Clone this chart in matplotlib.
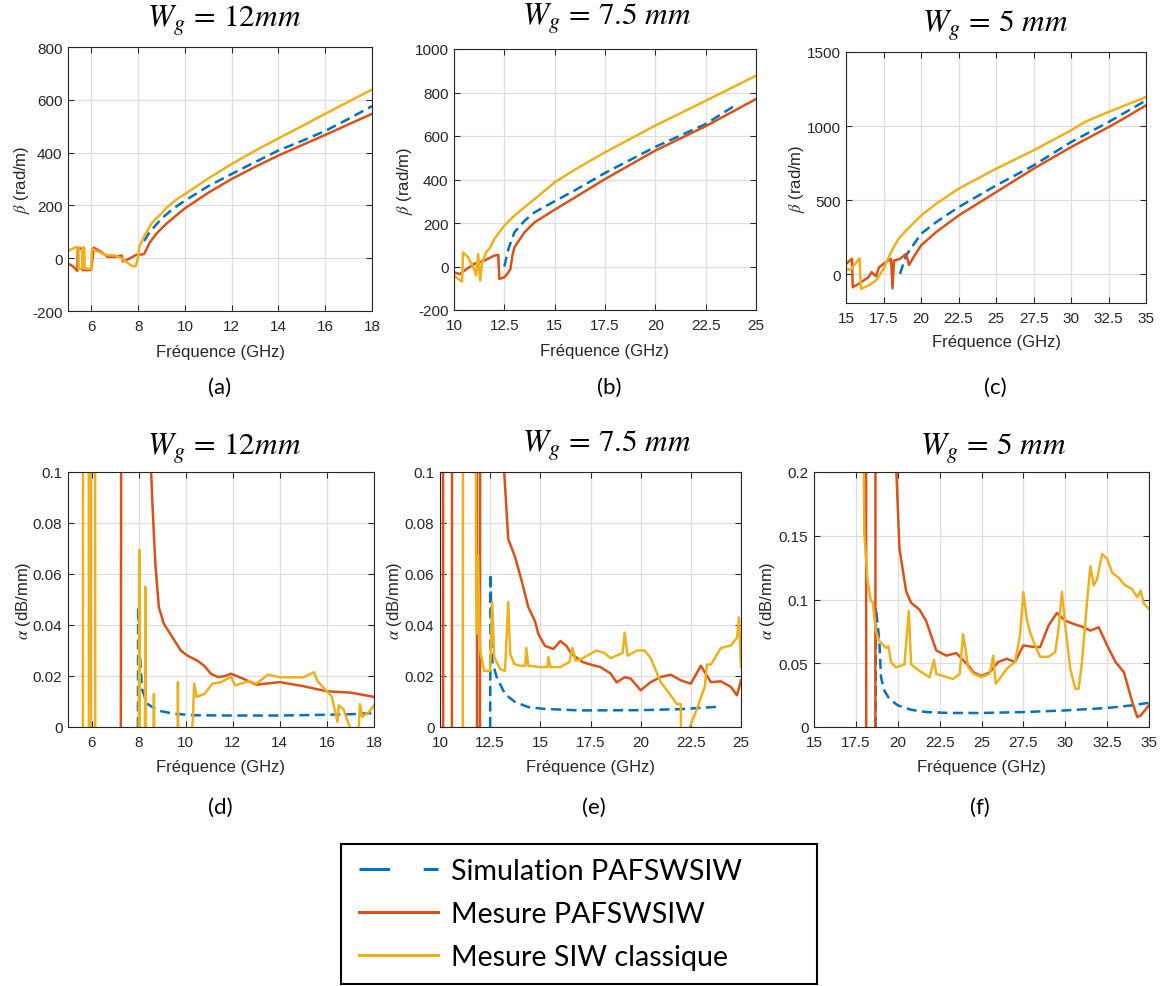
import matplotlib
matplotlib.use("Agg")
import matplotlib.pyplot as plt
from matplotlib.lines import Line2D
from matplotlib.patches import Rectangle
from matplotlib.font_manager import FontProperties

# === DATA ===
# (a) beta, Wg = 12 mm
a_sim_f = [8.25, 8.5, 9.0, 9.5, 10, 11, 12, 13, 14, 15, 16, 17, 18]
a_sim_v = [65, 100, 150, 188, 218, 273, 319, 364, 408, 444, 482, 528, 576]
a_pafs_f = [5.0, 5.2, 5.4, 5.42, 5.6, 5.62, 5.95, 6.0, 6.1, 6.4, 6.7, 7.0, 7.3, 7.35, 7.6, 7.9,
            8.25, 8.5, 8.8, 9.2, 9.6, 10, 11, 12, 13, 14, 15, 16, 17, 18]
a_pafs_v = [-20, -30, -48, 40, 35, -45, -45, -40, 40, 25, 5, 5, 10, -12, -3, 12,
            15, 60, 95, 130, 160, 189, 248, 300, 346, 389, 428, 467, 507, 547]
a_siw_f = [5.0, 5.35, 5.45, 5.46, 5.6, 5.61, 5.7, 5.71, 6.0, 6.02, 6.3, 6.6, 7.0, 7.3, 7.5, 7.75,
           7.9, 8.0, 8.05, 8.3, 8.6, 9.0, 9.2, 9.6, 10.0, 11.0, 12.0, 13.0, 14.0, 15.0, 16.0, 17.0, 18.0]
a_siw_v = [28, 42, 40, -40, -40, 40, 40, -40, -40, 35, 25, 12, 10, 0, -15, -30,
           -30, 5, 45, 90, 135, 170, 190, 220, 243, 302, 357, 407, 454, 500, 547, 593, 639]

# (b) beta, Wg = 7.5 mm
b_sim_f = [12.5, 12.7, 13.0, 13.5, 14, 15, 16, 17.5, 20, 22.5, 24]
b_sim_v = [0, 80, 157, 210, 249, 300, 350, 430, 550, 655, 743]
b_pafs_f = [10, 10.3, 10.5, 11, 11.5, 12, 12.2, 12.25, 12.5, 12.7, 12.8, 12.9, 13.0, 13.5, 14,
            15, 16, 17.5, 20, 22.5, 25]
b_pafs_v = [-27, -35, -20, 12, 27, 50, 53, -57, -50, -27, -12, 50, 88, 157, 203,
            261, 317, 402, 533, 645, 770]
b_siw_f = [10, 10.4, 10.45, 10.7, 11, 11.1, 11.2, 11.3, 11.4, 11.6, 11.8, 12, 12.5, 13, 13.5,
           14, 15, 16, 17.5, 20, 22, 22.5, 25]
b_siw_v = [-42, -70, 65, 42, -12, -42, 57, -65, 19, 65, 88, 126, 188, 234, 272,
           310, 387, 445, 525, 648, 739, 762, 877]

# (c) beta, Wg = 5 mm
c_sim_f = [18.6, 19, 20, 21, 22.5, 25, 27.5, 30, 32.5, 35]
c_sim_v = [2, 126, 273, 351, 453, 599, 734, 892, 1027, 1173]
c_pafs_f = [15, 15.4, 15.45, 16, 16.5, 16.7, 17, 17.2, 17.5, 18, 18.1, 18.2, 18.6, 19, 19.2,
            19.5, 20, 21, 22.5, 25, 27.5, 30, 32.5, 33.5, 35]
c_pafs_v = [70, 104, -88, -54, -20, 14, -14, 47, 70, 104, -95, 92, 104, 137, 63,
            115, 194, 284, 396, 554, 712, 858, 993, 1050, 1140]
c_siw_f = [15, 15.3, 15.9, 16.0, 16.5, 17, 17.5, 18, 18.5, 19, 20, 21, 22.5, 25, 27.5, 30,
           31, 32.5, 35]
c_siw_v = [36, 30, 108, -99, -76, -42, 36, 149, 239, 295, 396, 475, 577, 712, 836, 971,
           1032, 1095, 1196]

# (d) alpha, Wg = 12 mm
d_sim_f = [7.97, 7.98, 8.05, 8.14, 8.36, 8.79, 9.5, 10.36, 12, 14, 16, 17, 18]
d_sim_v = [0, 0.047, 0.03, 0.015, 0.0092, 0.0065, 0.0052, 0.0046, 0.0045, 0.0045, 0.0048, 0.005, 0.0055]
d_pafs_f = [5.0, 7.24, 7.28, 8.5, 8.53, 8.6, 8.71, 8.86, 9.07, 9.43, 9.79, 10.07, 10.5, 10.79,
            11.07, 11.36, 11.64, 11.93, 12.5, 13, 14, 15, 16, 17, 18]
d_pafs_v = [-0.05, -0.05, 0.3, 0.3, 0.1, 0.085, 0.064, 0.047, 0.0405, 0.0353, 0.030, 0.028, 0.026, 0.024,
            0.0209, 0.0196, 0.0199, 0.0209, 0.0187, 0.0166, 0.0176, 0.016, 0.014, 0.0135, 0.0118]
d_siw_f = [5.0, 5.63, 5.65, 5.87, 5.89, 5.96, 5.98, 6.14, 6.16, 8.0, 8.03, 8.06, 8.26, 8.29, 8.32,
           8.62, 8.65, 8.68, 9.65, 9.67, 9.7, 10.2, 10.3, 10.36, 10.47, 10.8, 11.14, 11.5, 11.93,
           12.1, 12.7, 13.0, 13.5, 14, 15, 15.45, 15.6, 16.2, 16.45, 16.5, 16.7, 17.05, 17.35,
           17.4, 17.5, 17.8, 18]
d_siw_v = [-0.05, -0.05, 0.3, 0.3, -0.05, -0.05, 0.3, 0.3, -0.05, -0.02, 0.0695, -0.02, -0.02, 0.055, -0.02,
           -0.02, 0.013, -0.02, -0.02, 0.0176, -0.02, -0.005, 0.002, 0.017, 0.0118, 0.013, 0.017, 0.0176, 0.0196,
           0.0163, 0.018, 0.017, 0.0205, 0.0195, 0.0195, 0.0215, 0.018, 0.012, 0.002, 0.0085, 0.007, -0.002, -0.002,
           0.009, 0.004, 0.006, 0.0085]

# (e) alpha, Wg = 7.5 mm
e_sim_f = [12.5, 12.52, 12.56, 12.6, 12.82, 13.24, 13.74, 14.4, 15.2, 17, 20, 22, 23, 24]
e_sim_v = [0, 0.060, 0.040, 0.026, 0.0196, 0.0129, 0.0098, 0.0078, 0.0071, 0.0065, 0.0066, 0.0070, 0.0075, 0.0080]
e_pafs_f = [10.0, 10.14, 10.16, 10.59, 10.61, 11.83, 11.85, 11.99, 12.01, 13.15, 13.2, 13.4, 13.74,
            14.07, 14.4, 14.73, 14.9, 15.23, 15.65, 16.0, 16.3, 16.56, 17.1, 17.5, 18, 18.5, 18.8,
            19.2, 19.5, 20, 20.5, 21, 21.5, 22, 22.5, 23, 23.5, 24, 24.5, 24.8, 25]
e_pafs_v = [0.3, 0.3, -0.05, -0.05, 0.3, 0.3, -0.05, -0.05, 0.3, 0.3, 0.1, 0.0737, 0.0667,
            0.0573, 0.047, 0.0416, 0.0365, 0.0318, 0.0306, 0.0337, 0.0318, 0.0286, 0.0255, 0.0245, 0.0235, 0.021, 0.0175,
            0.0195, 0.019, 0.0144, 0.0176, 0.0196, 0.0205, 0.0183, 0.017, 0.024, 0.0176, 0.0179, 0.0157, 0.0124, 0.0183]
e_siw_f = [10.0, 11.13, 11.16, 11.74, 11.8, 11.84, 11.9, 12.0, 12.2, 12.5, 12.6, 12.7, 13.0, 13.24,
           13.4, 13.5, 13.7, 14.0, 14.25, 14.3, 14.4, 15.0, 15.35, 15.4, 15.5, 16.0, 16.45, 16.6,
           16.75, 17.0, 17.8, 18.2, 18.5, 18.8, 19.1, 19.2, 19.35, 19.6, 19.8, 20.2, 20.5, 21, 21.5,
           21.8, 22.0, 22.02, 22.45, 22.8, 23.2, 23.3, 23.5, 24, 24.5, 24.8, 24.9, 25]
e_siw_v = [-0.05, -0.05, 0.3, 0.3, 0.051, 0.0365, 0.067, 0.030, 0.022, 0.022, 0.049, 0.0275, 0.0227, 0.022,
           0.049, 0.0286, 0.0247, 0.024, 0.024, 0.031, 0.024, 0.0235, 0.0235, 0.0275, 0.0235, 0.0235, 0.0255, 0.031,
           0.026, 0.0265, 0.030, 0.029, 0.027, 0.028, 0.029, 0.037, 0.028, 0.029, 0.030, 0.030, 0.027, 0.0176, 0.0124,
           0.009, 0.009, -0.01, 0.0, 0.007, 0.016, 0.0245, 0.0245, 0.031, 0.032, 0.035, 0.043, 0.0235]

# (f) alpha, Wg = 5 mm
f_sim_f = [18.68, 18.7, 18.9, 19.0, 19.2, 19.5, 20.0, 20.8, 21.7, 23.1, 25, 27.5, 30, 32.5, 34, 35]
f_sim_v = [0, 0.0935, 0.0675, 0.039, 0.0286, 0.022, 0.017, 0.0135, 0.0117, 0.011, 0.011, 0.0117, 0.013,
           0.0149, 0.017, 0.019]
f_pafs_f = [15, 18.1, 18.12, 18.66, 18.68, 19.88, 19.92, 20.1, 20.5, 20.8, 21.3, 21.7, 22.3, 22.9, 23.5,
            24.3, 24.5, 25, 25.5, 26, 26.5, 27, 27.5, 28, 28.5, 29, 29.5, 30, 30.5, 31, 31.5, 32, 32.5,
            33, 33.5, 34, 34.3, 34.5, 35]
f_pafs_v = [0.5, 0.5, -0.05, -0.05, 0.5, 0.5, 0.2, 0.140, 0.1065, 0.0974, 0.092, 0.083, 0.060, 0.056, 0.058,
            0.047, 0.043, 0.040, 0.043, 0.051, 0.0535, 0.051, 0.064, 0.063, 0.0626, 0.0795, 0.0894, 0.0834, 0.0808,
            0.0787, 0.0756, 0.0782, 0.064, 0.051, 0.043, 0.0196, 0.0078, 0.009, 0.017]
f_siw_f = [15, 17.85, 18.0, 18.2, 18.4, 18.5, 18.7, 18.9, 19.3, 19.44, 19.6, 19.9, 20.4, 20.66, 20.8,
           21.3, 21.9, 22.16, 22.3, 23.3, 23.7, 23.9, 24.06, 24.2, 24.5, 25, 25.5, 25.7, 25.85, 26.2,
           26.5, 27, 27.3, 27.5, 27.7, 27.9, 28.2, 28.5, 29, 29.4, 29.6, 29.8, 30, 30.3, 30.6, 30.8,
           31, 31.3, 31.5, 31.7, 31.9, 32.2, 32.5, 32.8, 33.2, 33.5, 34, 34.3, 34.5, 34.7, 35]
f_siw_v = [0.5, 0.5, 0.153, 0.114, 0.099, 0.098, 0.075, 0.0675, 0.062, 0.0636, 0.0506, 0.0468, 0.049, 0.091,
           0.049, 0.044, 0.039, 0.0525, 0.0416, 0.0377, 0.0416, 0.0727, 0.06, 0.047, 0.042, 0.039, 0.042, 0.056,
           0.034, 0.040, 0.0456, 0.051, 0.0717, 0.106, 0.085, 0.074, 0.064, 0.055, 0.055, 0.0587, 0.077, 0.106,
           0.0795, 0.0456, 0.030, 0.030, 0.051, 0.098, 0.126, 0.111, 0.116, 0.1356, 0.132, 0.121, 0.117, 0.112,
           0.108, 0.1017, 0.107, 0.0965, 0.0926]

# tick labels
ticks_a = [6, 8, 10, 12, 14, 16, 18]
ticks_b = [10, 12.5, 15, 17.5, 20, 22.5, 25]
ticks_c = [15, 17.5, 20, 22.5, 25, 27.5, 30, 32.5, 35]
labels_b = ["10", "12.5", "15", "17.5", "20", "22.5", "25"]
labels_c = ["15", "17.5", "20", "22.5", "25", "27.5", "30", "32.5", "35"]
yt_a = [-200, 0, 200, 400, 600, 800]
yt_b = [-200, 0, 200, 400, 600, 800, 1000]
yt_c = [0, 500, 1000, 1500]
yt_alpha = [0, 0.02, 0.04, 0.06, 0.08, 0.1]
yl_alpha = ["0", "0.02", "0.04", "0.06", "0.08", "0.1"]
yt_f = [0, 0.05, 0.1, 0.15, 0.2]
yl_f = ["0", "0.05", "0.1", "0.15", "0.2"]

titles = [r"$W_g\,=\,12mm$", r"$W_g\,=\,7.5\ mm$", r"$W_g\,=\,5\ mm$"]
legend_labels = ["Simulation PAFSWSIW", "Mesure PAFSWSIW", "Mesure SIW classique"]

# === STYLE ===
BLUE, RED, YELLOW = "#0072BD", "#D95319", "#EDB120"
DARK = "#262626"
W, H = 1164, 987
plt.rcParams["font.family"] = ["Liberation Sans", "DejaVu Sans"]
plt.rcParams["mathtext.fontset"] = "stix"

fig = plt.figure(figsize=(W / 100, H / 100), dpi=100)


def px_axes(l, r, t, b):
    return fig.add_axes([l / W, 1 - b / H, (r - l) / W, (b - t) / H])


def panel(box, xlim, ylim, xt, xl, yt, yl, data, ylabel, ylab_x):
    ax = px_axes(*box)
    sim, pafs, siw = data
    ax.plot(sim[0], sim[1], color=BLUE, lw=1.8, ls=(0, (4, 2.2)))
    ax.plot(pafs[0], pafs[1], color=RED, lw=1.8)
    ax.plot(siw[0], siw[1], color=YELLOW, lw=1.8)
    ax.set_xlim(*xlim)
    ax.set_ylim(*ylim)
    ax.set_xticks(xt)
    ax.set_xticklabels(xl)
    ax.set_yticks(yt)
    ax.set_yticklabels(yl)
    ax.grid(True, color="#dedede", lw=0.9)
    ax.set_axisbelow(True)
    ax.tick_params(direction="in", top=True, right=True, length=4, width=0.75,
                   labelsize=11, colors=DARK)
    ax.tick_params(axis="x", pad=6)
    ax.tick_params(axis="y", pad=4)
    for s in ax.spines.values():
        s.set_color(DARK)
        s.set_linewidth(0.8)
    ax.set_xlabel("Fréquence (GHz)", fontsize=12, color=DARK)
    ax.xaxis.label.set_verticalalignment("center")
    ax.xaxis.set_label_coords(0.5, -0.155)
    ax.set_ylabel(ylabel, fontsize=12, color=DARK)
    ax.yaxis.label.set_verticalalignment("center")
    ax.yaxis.set_label_coords(ylab_x, 0.5)
    return ax


beta_lab = r"$\beta$ (rad/m)"
alpha_lab = r"$\alpha$ (dB/mm)"

panel((68, 372, 48, 312), (5, 18), (-200, 800), ticks_a, [str(t) for t in ticks_a], yt_a,
      [str(t) for t in yt_a], ((a_sim_f, a_sim_v), (a_pafs_f, a_pafs_v), (a_siw_f, a_siw_v)), beta_lab, -0.151)
panel((454, 756, 50, 311), (10, 25), (-200, 1000), ticks_b, labels_b, yt_b,
      [str(t) for t in yt_b], ((b_sim_f, b_sim_v), (b_pafs_f, b_pafs_v), (b_siw_f, b_siw_v)), beta_lab, -0.162)
panel((846, 1146, 53, 304), (15, 35), (-194, 1500), ticks_c, labels_c, yt_c,
      [str(t) for t in yt_c], ((c_sim_f, c_sim_v), (c_pafs_f, c_pafs_v), (c_siw_f, c_siw_v)), beta_lab, -0.163)
panel((68, 374, 473, 728), (5, 18), (0, 0.1), ticks_a, [str(t) for t in ticks_a], yt_alpha, yl_alpha,
      ((d_sim_f, d_sim_v), (d_pafs_f, d_pafs_v), (d_siw_f, d_siw_v)), alpha_lab, -0.147)
panel((440, 741, 473, 728), (10, 25), (0, 0.1), ticks_b, labels_b, yt_alpha, yl_alpha,
      ((e_sim_f, e_sim_v), (e_pafs_f, e_pafs_v), (e_siw_f, e_siw_v)), alpha_lab, -0.15)
panel((814, 1149, 473, 728), (15, 35), (0, 0.2), ticks_c, labels_c, yt_f, yl_f,
      ((f_sim_f, f_sim_v), (f_pafs_f, f_pafs_v), (f_siw_f, f_siw_v)), alpha_lab, -0.14)

# === TITLES AND PANEL LETTERS ===
title_pos = [(224, 22), (607, 20), (995, 27), (224, 450), (607, 447), (993, 450)]
for i, (x, y) in enumerate(title_pos):
    fig.text(x / W, 1 - y / H, titles[i % 3], fontsize=22.5, ha="center", va="center")

letters = ["(a)", "(b)", "(c)", "(d)", "(e)", "(f)"]
letter_pos = [(220, 388), (609, 388), (995, 388), (220, 808), (594, 808), (980, 808)]
for s, (x, y) in zip(letters, letter_pos):
    fig.text(x / W, 1 - y / H, s, fontsize=16, family="Lato", ha="center", va="center")

# === LEGEND ===
handles = [Line2D([], [], color=BLUE, lw=2.2, ls=(0, (10, 11))),
           Line2D([], [], color=RED, lw=2.2),
           Line2D([], [], color=YELLOW, lw=2.2)]
fig.legend(handles, legend_labels, loc="upper left", bbox_to_anchor=(359 / W, 1 - 859 / H),
           frameon=False, prop=FontProperties(family="Lato", size=20.6), handlelength=2.75,
           handletextpad=0.45, labelspacing=0.6, borderpad=0, borderaxespad=0)
fig.patches.append(Rectangle((341 / W, 1 - 985 / H), 476 / W, 140 / H, transform=fig.transFigure,
                             fill=False, ec="black", lw=1.5))

fig.savefig("out.png", dpi=100)
